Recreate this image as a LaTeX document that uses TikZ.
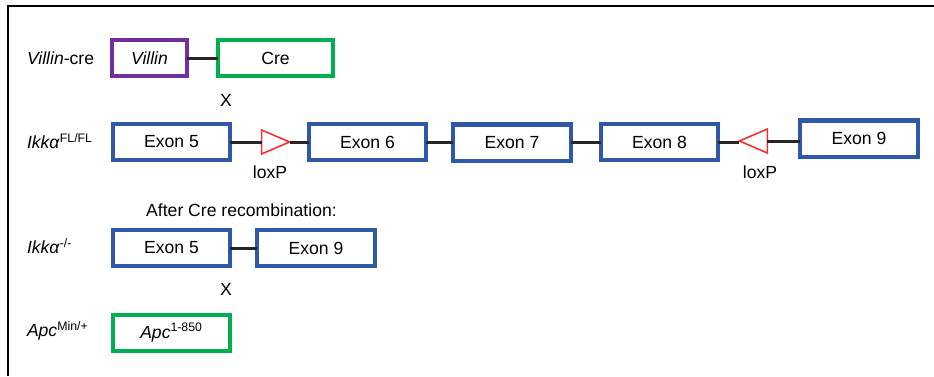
\documentclass[tikz,border=0pt]{standalone}
\usepackage{fontspec}
\setmainfont{Liberation Sans}
\usepackage{xcolor}
\usetikzlibrary{positioning, shapes.geometric}

\definecolor{exonblue}{RGB}{47,89,168}
\definecolor{villinpurple}{RGB}{112,48,160}
\definecolor{cregreen}{RGB}{0,176,80}
\definecolor{loxred}{RGB}{240,50,50}

\begin{document}
\begin{tikzpicture}[
    x=0.025cm, y=-0.025cm,
    every node/.style={font=\fontsize{12.5}{14}\selectfont, inner sep=0pt, outer sep=0pt},
    exon/.style={draw=exonblue, line width=0.1cm, minimum width=2.925cm, minimum height=0.9cm},
    gene/.style={draw=#1, line width=0.1cm, minimum height=0.9cm},
    lox/.style={draw=loxred, line width=0.04cm, isosceles triangle, isosceles triangle stretches,
        minimum width=0.6cm, minimum height=0.7cm, shape border rotate=#1},
    lbl/.style={anchor=west},
    link/.style={line width=0.075cm, draw=black!85}
]
\useasboundingbox (0,0) rectangle (934,376);
\draw[line width=0.05cm] (8,376) -- (8,6) -- (934,6);

% Villin-cre
\node[lbl] (vclabel) at (27,58) {\textit{Villin}-cre};
\node[gene=villinpurple, minimum width=1.875cm] (villin) at (149.5,58) {\textit{Villin}};
\node[gene=cregreen, minimum width=2.875cm] (cre) at (275.5,58) {Cre};
\draw[link] (villin) -- (cre);
\node (cross1) at (226,100) {X};

% floxed allele
\node[lbl] (fllabel) at (27,141) {\textit{Ikkα}\textsuperscript{FL/FL}};
\node[exon] (e5) at (171.5,142) {Exon 5};
\node[lox=0] (lox1) at (269.5,142) {};
\node[exon] (e6) at (367.5,142) {Exon 6};
\node[exon] (e7) at (512,142.5) {Exon 7};
\node[exon] (e8) at (659.5,142) {Exon 8};
\node[lox=180] (lox2) at (759.5,141) {};
\node[exon] (e9) at (859,138.5) {Exon 9};
\node (loxtxt1) at (270,172) {loxP};
\node (loxtxt2) at (760,172) {loxP};
\draw[link] (e5) -- (lox1) -- (e6);
\draw[link] (e6.east) -- (e6.east -| e7.west);
\draw[link] (e7.east -| e8.west) -- (e7.east);
\draw[link] (e8.east) -- (e8.east -| lox2.west);
\draw[link] (lox2.east) -- (lox2.east -| e9.west);

% after recombination
\node (after) at (241.5,210) {After Cre recombination:};
\node[lbl] (kolabel) at (27,246) {\textit{Ikkα}\textsuperscript{-/-}};
\node[exon] (r5) at (171.5,248) {Exon 5};
\node[exon] (r9) at (316,248) {Exon 9};
\draw[link] (r5) -- (r9);
\node (cross2) at (226,289) {X};

% Apc
\node[lbl] (apclabel) at (27,331) {\textit{Apc}\textsuperscript{Min/+}};
\node[gene=cregreen, minimum width=2.925cm] (apc) at (171.5,332.5) {\textit{Apc}\textsuperscript{1-850}};
\end{tikzpicture}
\end{document}
